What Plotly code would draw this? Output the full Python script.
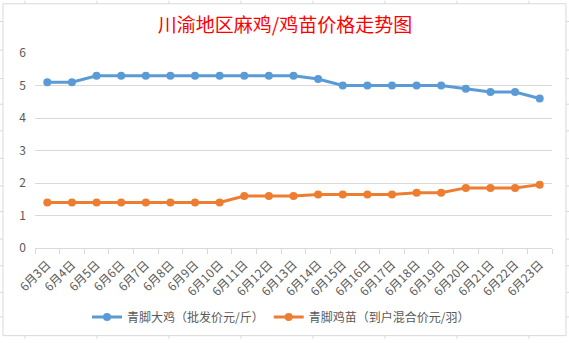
import plotly.graph_objects as go

W, H = 569, 343
categories = [f"6月{d}日" for d in range(3, 24)]
broiler = [5.1, 5.1, 5.3, 5.3, 5.3, 5.3, 5.3, 5.3, 5.3, 5.3, 5.3,
           5.2, 5.0, 5.0, 5.0, 5.0, 5.0, 4.9, 4.8, 4.8, 4.6]
chick = [1.4, 1.4, 1.4, 1.4, 1.4, 1.4, 1.4, 1.4, 1.6, 1.6, 1.6,
         1.65, 1.65, 1.65, 1.65, 1.7, 1.7, 1.85, 1.85, 1.85, 1.95]
series_names = ["青脚大鸡（批发价元/斤）", "青脚鸡苗（到户混合价元/羽）"]
colors = ["#5B9BD5", "#ED7D31"]
title_text = "川渝地区麻鸡/鸡苗价格走势图"

L, R, T, B = 35, 17, 53, 92
PW, PH = W - L - R, H - T - B

def px(x):
    return (x - L) / PW

def py(y):
    return 1 - (y - T) / PH

fig = go.Figure()
for name, vals, c in zip(series_names, [broiler, chick], colors):
    fig.add_trace(go.Scatter(
        x=categories, y=vals, name=name, mode="lines+markers",
        line=dict(color=c, width=3), marker=dict(color=c, size=8),
    ))

grid = "#d9d9d9"
shapes = []
# chart border
shapes.append(dict(type="rect", xref="paper", yref="paper",
                   x0=px(3), x1=px(566), y0=py(340), y1=py(3),
                   line=dict(color=grid, width=1), layer="below"))
# spreadsheet grid fragments outside the chart
for cx in [25, 97, 169, 241, 313, 385, 457, 529]:
    shapes.append(dict(type="line", xref="paper", yref="paper",
                       x0=px(cx), x1=px(cx), y0=py(0), y1=py(3),
                       line=dict(color=grid, width=1)))
    shapes.append(dict(type="line", xref="paper", yref="paper",
                       x0=px(cx), x1=px(cx), y0=py(340), y1=py(343),
                       line=dict(color=grid, width=1)))
for ry in [21, 50, 79, 105, 132, 160, 188, 214, 242, 269, 296, 321]:
    shapes.append(dict(type="line", xref="paper", yref="paper",
                       x0=px(0), x1=px(3), y0=py(ry), y1=py(ry),
                       line=dict(color=grid, width=1)))
    shapes.append(dict(type="line", xref="paper", yref="paper",
                       x0=px(566), x1=px(569), y0=py(ry), y1=py(ry),
                       line=dict(color=grid, width=1)))

fig.update_layout(
    width=W, height=H,
    margin=dict(l=L, r=R, t=T, b=B, pad=0),
    paper_bgcolor="white", plot_bgcolor="white",
    font=dict(family="Noto Sans CJK SC, Microsoft YaHei, sans-serif", color="#595959", size=12),
    title=dict(text=title_text, x=px(285), xref="paper", xanchor="center",
               y=1 - 25 / H, yanchor="middle",
               font=dict(color="#FF0000", size=19, family="Noto Sans CJK SC")),
    shapes=shapes,
    showlegend=True,
    legend=dict(orientation="h", x=px(281), xanchor="center", xref="paper",
                y=py(321), yanchor="middle", itemwidth=30,
                font=dict(size=12, color="#595959"), bgcolor="rgba(0,0,0,0)"),
    xaxis=dict(type="category", tickson="boundaries", ticks="outside", ticklen=5,
               tickcolor=grid, showline=True, linecolor=grid, showgrid=False,
               tickangle=-45, tickfont=dict(size=12, color="#595959"),
               ticklabelstandoff=4,
               range=[-0.5, len(categories) - 0.5], fixedrange=True),
    yaxis=dict(range=[0, 6], dtick=1, showgrid=True, gridcolor=grid, zeroline=False,
               showline=False, ticks="", tickfont=dict(size=12, color="#595959"),
               ticklabelstandoff=8),
)

fig.write_html("out.html")
